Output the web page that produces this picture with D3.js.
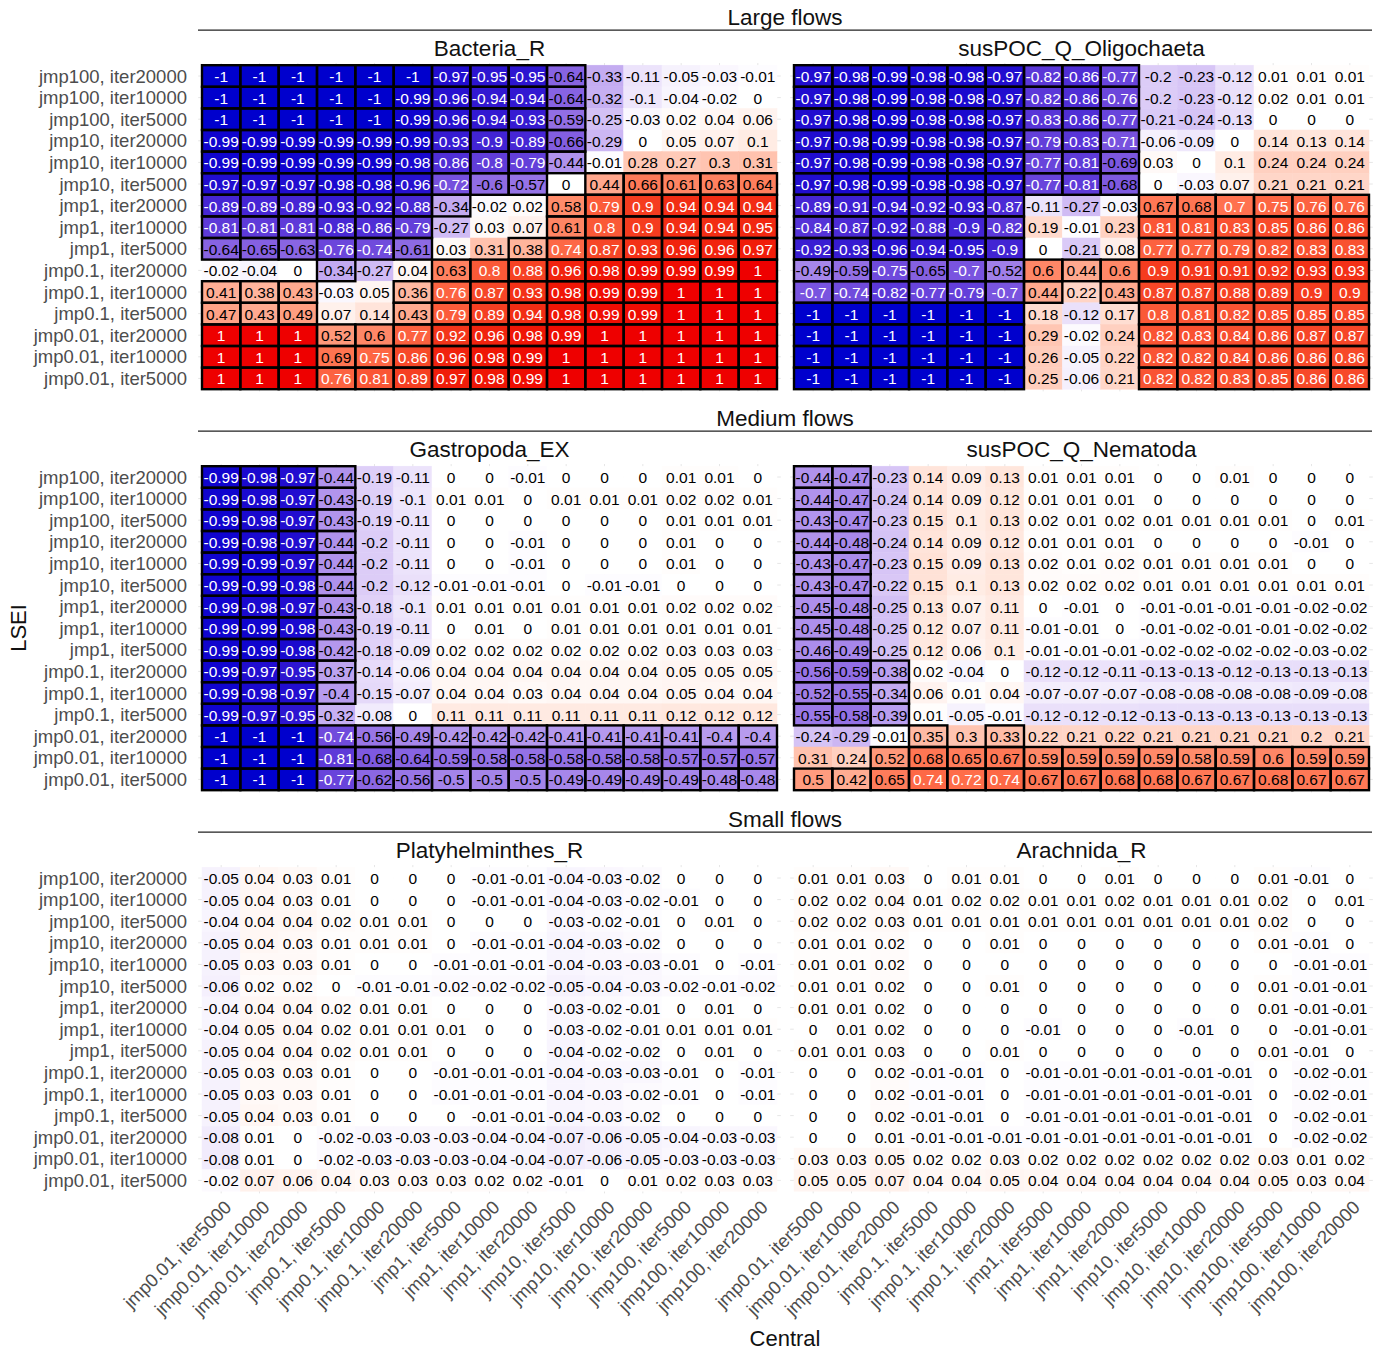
<!DOCTYPE html>
<html>
<head>
<meta charset="utf-8">
<script src="https://cdn.jsdelivr.net/npm/d3@7"></script>
<style>
  html, body { margin: 0; padding: 0; background: #fff; }
  svg { display: block; font-family: "Liberation Sans", Arial, sans-serif; }
</style>
</head>
<body>
<svg id="chart" width="1384" height="1351"></svg>
<script>
// ---------------- DATA ----------------
const rowLabels = ["jmp100, iter20000","jmp100, iter10000","jmp100, iter5000",
  "jmp10, iter20000","jmp10, iter10000","jmp10, iter5000",
  "jmp1, iter20000","jmp1, iter10000","jmp1, iter5000",
  "jmp0.1, iter20000","jmp0.1, iter10000","jmp0.1, iter5000",
  "jmp0.01, iter20000","jmp0.01, iter10000","jmp0.01, iter5000"];
const colLabels = ["jmp0.01, iter5000","jmp0.01, iter10000","jmp0.01, iter20000",
  "jmp0.1, iter5000","jmp0.1, iter10000","jmp0.1, iter20000",
  "jmp1, iter5000","jmp1, iter10000","jmp1, iter20000",
  "jmp10, iter5000","jmp10, iter10000","jmp10, iter20000",
  "jmp100, iter5000","jmp100, iter10000","jmp100, iter20000"];
const groupTitles = ["Large flows","Medium flows","Small flows"];
const panelTitles = [["Bacteria_R","susPOC_Q_Oligochaeta"],["Gastropoda_EX","susPOC_Q_Nematoda"],["Platyhelminthes_R","Arachnida_R"]];

const bacteriaR = [
 [-1,-1,-1,-1,-1,-1,-0.97,-0.95,-0.95,-0.64,-0.33,-0.11,-0.05,-0.03,-0.01],
 [-1,-1,-1,-1,-1,-0.99,-0.96,-0.94,-0.94,-0.64,-0.32,-0.1,-0.04,-0.02,0],
 [-1,-1,-1,-1,-1,-0.99,-0.96,-0.94,-0.93,-0.59,-0.25,-0.03,0.02,0.04,0.06],
 [-0.99,-0.99,-0.99,-0.99,-0.99,-0.99,-0.93,-0.9,-0.89,-0.66,-0.29,0,0.05,0.07,0.1],
 [-0.99,-0.99,-0.99,-0.99,-0.99,-0.98,-0.86,-0.8,-0.79,-0.44,-0.01,0.28,0.27,0.3,0.31],
 [-0.97,-0.97,-0.97,-0.98,-0.98,-0.96,-0.72,-0.6,-0.57,0,0.44,0.66,0.61,0.63,0.64],
 [-0.89,-0.89,-0.89,-0.93,-0.92,-0.88,-0.34,-0.02,0.02,0.58,0.79,0.9,0.94,0.94,0.94],
 [-0.81,-0.81,-0.81,-0.88,-0.86,-0.79,-0.27,0.03,0.07,0.61,0.8,0.9,0.94,0.94,0.95],
 [-0.64,-0.65,-0.63,-0.76,-0.74,-0.61,0.03,0.31,0.38,0.74,0.87,0.93,0.96,0.96,0.97],
 [-0.02,-0.04,0,-0.34,-0.27,0.04,0.63,0.8,0.88,0.96,0.98,0.99,0.99,0.99,1],
 [0.41,0.38,0.43,-0.03,0.05,0.36,0.76,0.87,0.93,0.98,0.99,0.99,1,1,1],
 [0.47,0.43,0.49,0.07,0.14,0.43,0.79,0.89,0.94,0.98,0.99,0.99,1,1,1],
 [1,1,1,0.52,0.6,0.77,0.92,0.96,0.98,0.99,1,1,1,1,1],
 [1,1,1,0.69,0.75,0.86,0.96,0.98,0.99,1,1,1,1,1,1],
 [1,1,1,0.76,0.81,0.89,0.97,0.98,0.99,1,1,1,1,1,1]];
const bacteriaRSig = [
 "111111111100000","111111111100000","111111111100000","111111111100000","111111111100000",
 "111111111011111","111111100111111","111111000111111","111111001111111",
 "000100111111111","111001111111111","111001111111111",
 "111111111111111","111111111111111","111111111111111"];

const oligochaeta = [
 [-0.97,-0.98,-0.99,-0.98,-0.98,-0.97,-0.82,-0.86,-0.77,-0.2,-0.23,-0.12,0.01,0.01,0.01],
 [-0.97,-0.98,-0.99,-0.98,-0.98,-0.97,-0.82,-0.86,-0.76,-0.2,-0.23,-0.12,0.02,0.01,0.01],
 [-0.97,-0.98,-0.99,-0.98,-0.98,-0.97,-0.83,-0.86,-0.77,-0.21,-0.24,-0.13,0,0,0],
 [-0.97,-0.98,-0.99,-0.98,-0.98,-0.97,-0.79,-0.83,-0.71,-0.06,-0.09,0,0.14,0.13,0.14],
 [-0.97,-0.98,-0.99,-0.98,-0.98,-0.97,-0.77,-0.81,-0.69,0.03,0,0.1,0.24,0.24,0.24],
 [-0.97,-0.98,-0.99,-0.98,-0.98,-0.97,-0.77,-0.81,-0.68,0,-0.03,0.07,0.21,0.21,0.21],
 [-0.89,-0.91,-0.94,-0.92,-0.93,-0.87,-0.11,-0.27,-0.03,0.67,0.68,0.7,0.75,0.76,0.76],
 [-0.84,-0.87,-0.92,-0.88,-0.9,-0.82,0.19,-0.01,0.23,0.81,0.81,0.83,0.85,0.86,0.86],
 [-0.92,-0.93,-0.96,-0.94,-0.95,-0.9,0,-0.21,0.08,0.77,0.77,0.79,0.82,0.83,0.83],
 [-0.49,-0.59,-0.75,-0.65,-0.7,-0.52,0.6,0.44,0.6,0.9,0.91,0.91,0.92,0.93,0.93],
 [-0.7,-0.74,-0.82,-0.77,-0.79,-0.7,0.44,0.22,0.43,0.87,0.87,0.88,0.89,0.9,0.9],
 [-1,-1,-1,-1,-1,-1,0.18,-0.12,0.17,0.8,0.81,0.82,0.85,0.85,0.85],
 [-1,-1,-1,-1,-1,-1,0.29,-0.02,0.24,0.82,0.83,0.84,0.86,0.87,0.87],
 [-1,-1,-1,-1,-1,-1,0.26,-0.05,0.22,0.82,0.82,0.84,0.86,0.86,0.86],
 [-1,-1,-1,-1,-1,-1,0.25,-0.06,0.21,0.82,0.82,0.83,0.85,0.86,0.86]];
const oligochaetaSig = [
 "111111111000000","111111111000000","111111111000000","111111111000000","111111111000000","111111111000000",
 "111111000111111","111111000111111","111111000111111",
 "111111111111111","111111101111111",
 "111111000111111","111111000111111","111111000111111","111111000111111"];

const gastropoda = [
 [-0.99,-0.98,-0.97,-0.44,-0.19,-0.11,0,0,-0.01,0,0,0,0.01,0.01,0],
 [-0.99,-0.98,-0.97,-0.43,-0.19,-0.1,0.01,0.01,0,0.01,0.01,0.01,0.02,0.02,0.01],
 [-0.99,-0.98,-0.97,-0.43,-0.19,-0.11,0,0,0,0,0,0,0.01,0.01,0.01],
 [-0.99,-0.98,-0.97,-0.44,-0.2,-0.11,0,0,-0.01,0,0,0,0.01,0,0],
 [-0.99,-0.99,-0.97,-0.44,-0.2,-0.11,0,0,-0.01,0,0,0,0.01,0,0],
 [-0.99,-0.99,-0.98,-0.44,-0.2,-0.12,-0.01,-0.01,-0.01,0,-0.01,-0.01,0,0,0],
 [-0.99,-0.98,-0.97,-0.43,-0.18,-0.1,0.01,0.01,0.01,0.01,0.01,0.01,0.02,0.02,0.02],
 [-0.99,-0.99,-0.98,-0.43,-0.19,-0.11,0,0.01,0,0.01,0.01,0.01,0.01,0.01,0.01],
 [-0.99,-0.99,-0.98,-0.42,-0.18,-0.09,0.02,0.02,0.02,0.02,0.02,0.02,0.03,0.03,0.03],
 [-0.99,-0.97,-0.95,-0.37,-0.14,-0.06,0.04,0.04,0.04,0.04,0.04,0.04,0.05,0.05,0.05],
 [-0.99,-0.98,-0.97,-0.4,-0.15,-0.07,0.04,0.04,0.03,0.04,0.04,0.04,0.05,0.04,0.04],
 [-0.99,-0.97,-0.95,-0.32,-0.08,0,0.11,0.11,0.11,0.11,0.11,0.11,0.12,0.12,0.12],
 [-1,-1,-1,-0.74,-0.56,-0.49,-0.42,-0.42,-0.42,-0.41,-0.41,-0.41,-0.41,-0.4,-0.4],
 [-1,-1,-1,-0.81,-0.68,-0.64,-0.59,-0.58,-0.58,-0.58,-0.58,-0.58,-0.57,-0.57,-0.57],
 [-1,-1,-1,-0.77,-0.62,-0.56,-0.5,-0.5,-0.5,-0.49,-0.49,-0.49,-0.49,-0.48,-0.48]];
const gastropodaSig = [
 "111100000000000","111100000000000","111100000000000","111100000000000","111100000000000","111100000000000",
 "111100000000000","111100000000000","111100000000000","111100000000000","111100000000000",
 "111000000000000","111111111111111","111111111111111","111111111111111"];

const nematoda = [
 [-0.44,-0.47,-0.23,0.14,0.09,0.13,0.01,0.01,0.01,0,0,0.01,0,0,0],
 [-0.44,-0.47,-0.24,0.14,0.09,0.12,0.01,0.01,0.01,0,0,0,0,0,0],
 [-0.43,-0.47,-0.23,0.15,0.1,0.13,0.02,0.01,0.02,0.01,0.01,0.01,0.01,0,0.01],
 [-0.44,-0.48,-0.24,0.14,0.09,0.12,0.01,0.01,0.01,0,0,0,0,-0.01,0],
 [-0.43,-0.47,-0.23,0.15,0.09,0.13,0.02,0.01,0.02,0.01,0.01,0.01,0.01,0,0],
 [-0.43,-0.47,-0.22,0.15,0.1,0.13,0.02,0.02,0.02,0.01,0.01,0.01,0.01,0.01,0.01],
 [-0.45,-0.48,-0.25,0.13,0.07,0.11,0,-0.01,0,-0.01,-0.01,-0.01,-0.01,-0.02,-0.02],
 [-0.45,-0.48,-0.25,0.12,0.07,0.11,-0.01,-0.01,0,-0.01,-0.02,-0.01,-0.01,-0.02,-0.02],
 [-0.46,-0.49,-0.25,0.12,0.06,0.1,-0.01,-0.01,-0.01,-0.02,-0.02,-0.02,-0.02,-0.03,-0.02],
 [-0.56,-0.59,-0.38,0.02,-0.04,0,-0.12,-0.12,-0.11,-0.13,-0.13,-0.12,-0.13,-0.13,-0.13],
 [-0.52,-0.55,-0.34,0.06,0.01,0.04,-0.07,-0.07,-0.07,-0.08,-0.08,-0.08,-0.08,-0.09,-0.08],
 [-0.55,-0.58,-0.39,0.01,-0.05,-0.01,-0.12,-0.12,-0.12,-0.13,-0.13,-0.13,-0.13,-0.13,-0.13],
 [-0.24,-0.29,-0.01,0.35,0.3,0.33,0.22,0.21,0.22,0.21,0.21,0.21,0.21,0.2,0.21],
 [0.31,0.24,0.52,0.68,0.65,0.67,0.59,0.59,0.59,0.59,0.58,0.59,0.6,0.59,0.59],
 [0.5,0.42,0.65,0.74,0.72,0.74,0.67,0.67,0.68,0.68,0.67,0.67,0.68,0.67,0.67]];
const nematodaSig = [
 "110000000000000","110000000000000","110000000000000","110000000000000","110000000000000",
 "110000000000000","110000000000000","110000000000000","110000000000000",
 "111000000000000","111000000000000","111000000000000",
 "000101000000000","001111111111111","111111111111111"];

const platyhelminthes = [
 [-0.05,0.04,0.03,0.01,0,0,0,-0.01,-0.01,-0.04,-0.03,-0.02,0,0,0],
 [-0.05,0.04,0.03,0.01,0,0,0,-0.01,-0.01,-0.04,-0.03,-0.02,-0.01,0,0],
 [-0.04,0.04,0.04,0.02,0.01,0.01,0,0,0,-0.03,-0.02,-0.01,0,0.01,0],
 [-0.05,0.04,0.03,0.01,0.01,0.01,0,-0.01,-0.01,-0.04,-0.03,-0.02,0,0,0],
 [-0.05,0.03,0.03,0.01,0,0,-0.01,-0.01,-0.01,-0.04,-0.03,-0.03,-0.01,0,-0.01],
 [-0.06,0.02,0.02,0,-0.01,-0.01,-0.02,-0.02,-0.02,-0.05,-0.04,-0.03,-0.02,-0.01,-0.02],
 [-0.04,0.04,0.04,0.02,0.01,0.01,0,0,0,-0.03,-0.02,-0.01,0,0.01,0],
 [-0.04,0.05,0.04,0.02,0.01,0.01,0.01,0,0,-0.03,-0.02,-0.01,0.01,0.01,0.01],
 [-0.05,0.04,0.04,0.02,0.01,0.01,0,0,0,-0.04,-0.02,-0.02,0,0.01,0],
 [-0.05,0.03,0.03,0.01,0,0,-0.01,-0.01,-0.01,-0.04,-0.03,-0.03,-0.01,0,-0.01],
 [-0.05,0.03,0.03,0.01,0,0,-0.01,-0.01,-0.01,-0.04,-0.03,-0.02,-0.01,0,-0.01],
 [-0.05,0.04,0.03,0.01,0,0,0,-0.01,-0.01,-0.04,-0.03,-0.02,0,0,0],
 [-0.08,0.01,0,-0.02,-0.03,-0.03,-0.03,-0.04,-0.04,-0.07,-0.06,-0.05,-0.04,-0.03,-0.03],
 [-0.08,0.01,0,-0.02,-0.03,-0.03,-0.03,-0.04,-0.04,-0.07,-0.06,-0.05,-0.03,-0.03,-0.03],
 [-0.02,0.07,0.06,0.04,0.03,0.03,0.03,0.02,0.02,-0.01,0,0.01,0.02,0.03,0.03]];
const platyhelminthesSig = Array(15).fill("000000000000000");

const arachnida = [
 [0.01,0.01,0.03,0,0.01,0.01,0,0,0.01,0,0,0,0.01,-0.01,0],
 [0.02,0.02,0.04,0.01,0.02,0.02,0.01,0.01,0.02,0.01,0.01,0.01,0.02,0,0.01],
 [0.02,0.02,0.03,0.01,0.01,0.01,0.01,0.01,0.01,0.01,0.01,0.01,0.02,0,0],
 [0.01,0.01,0.02,0,0,0.01,0,0,0,0,0,0,0.01,-0.01,0],
 [0.01,0.01,0.02,0,0,0,0,0,0,0,0,0,0,-0.01,-0.01],
 [0.01,0.01,0.02,0,0,0.01,0,0,0,0,0,0,0.01,-0.01,-0.01],
 [0.01,0.01,0.02,0,0,0,0,0,0,0,0,0,0.01,-0.01,-0.01],
 [0,0.01,0.02,0,0,0,-0.01,0,0,0,-0.01,0,0,-0.01,-0.01],
 [0.01,0.01,0.03,0,0,0.01,0,0,0,0,0,0,0.01,-0.01,0],
 [0,0,0.02,-0.01,-0.01,0,-0.01,-0.01,-0.01,-0.01,-0.01,-0.01,0,-0.02,-0.01],
 [0,0,0.02,-0.01,-0.01,0,-0.01,-0.01,-0.01,-0.01,-0.01,-0.01,0,-0.02,-0.01],
 [0,0,0.02,-0.01,-0.01,0,-0.01,-0.01,-0.01,-0.01,-0.01,-0.01,0,-0.02,-0.01],
 [0,0,0.01,-0.01,-0.01,-0.01,-0.01,-0.01,-0.01,-0.01,-0.01,-0.01,0,-0.02,-0.02],
 [0.03,0.03,0.05,0.02,0.02,0.03,0.02,0.02,0.02,0.02,0.02,0.02,0.03,0.01,0.02],
 [0.05,0.05,0.07,0.04,0.04,0.05,0.04,0.04,0.04,0.04,0.04,0.04,0.05,0.03,0.04]];
const arachnidaSig = Array(15).fill("000000000000000");

const panelValues = [[bacteriaR, oligochaeta],[gastropoda, nematoda],[platyhelminthes, arachnida]];
const panelSig = [[bacteriaRSig, oligochaetaSig],[gastropodaSig, nematodaSig],[platyhelminthesSig, arachnidaSig]];

// ---------------- LAYOUT ----------------
const svg = d3.select("#chart");
const panelX = [[202, 777],[794, 1369]];
const bandTops = [65.2, 466.2, 867.2];
const panelH = 324;
const color = d3.scaleLinear().domain([-1, 0, 1])
  .range(["#0000CD", "#FFFFFF", "#EE0000"]).interpolate(d3.interpolateLab);

bandTops.forEach((top, g) => {
  // group header and line
  svg.append("text").attr("x", 785).attr("y", top - 48).attr("text-anchor", "middle")
    .attr("dominant-baseline", "central").attr("font-size", 22.5).attr("fill", "#111")
    .text(groupTitles[g]);
  svg.append("line").attr("x1", 198).attr("x2", 1372).attr("y1", top - 35).attr("y2", top - 35)
    .attr("stroke", "#222").attr("stroke-width", 1.2);

  panelX.forEach((px, p) => {
    const x = d3.scaleBand().domain(colLabels).range(px).padding(0);
    const y = d3.scaleBand().domain(rowLabels).range([top, top + panelH]).padding(0);
    const bw = x.bandwidth(), bh = y.bandwidth();
    const vals = panelValues[g][p], sig = panelSig[g][p];
    const cells = [];
    rowLabels.forEach((r, i) => colLabels.forEach((c, j) => {
      cells.push({r, c, v: vals[i][j], s: sig[i][j] === "1"});
    }));
    const gp = svg.append("g");

    // panel title
    gp.append("text").attr("x", (px[0] + px[1]) / 2).attr("y", top - 17)
      .attr("text-anchor", "middle").attr("dominant-baseline", "central")
      .attr("font-size", 22.5).attr("fill", "#111").text(panelTitles[g][p]);

    // grid lines (panel expansion)
    const ex = bw * 0.1, ey = bh * 0.1;
    gp.selectAll(".gv").data(colLabels).join("line")
      .attr("x1", d => x(d) + bw / 2).attr("x2", d => x(d) + bw / 2)
      .attr("y1", top - ey).attr("y2", top + panelH + ey)
      .attr("stroke", "#e6e6e6").attr("stroke-width", 1);
    gp.selectAll(".gh").data(rowLabels).join("line")
      .attr("y1", d => y(d) + bh / 2).attr("y2", d => y(d) + bh / 2)
      .attr("x1", px[0] - ex).attr("x2", px[1] + ex)
      .attr("stroke", "#e6e6e6").attr("stroke-width", 1);

    // tiles
    gp.selectAll(".tile").data(cells).join("rect")
      .attr("x", d => x(d.c)).attr("y", d => y(d.r))
      .attr("width", bw).attr("height", bh)
      .attr("fill", d => color(d.v)).attr("stroke", d => color(d.v)).attr("stroke-width", 0.5);
    // significance outlines
    gp.selectAll(".sig").data(cells.filter(d => d.s)).join("rect")
      .attr("x", d => x(d.c)).attr("y", d => y(d.r))
      .attr("width", bw).attr("height", bh)
      .attr("fill", "none").attr("stroke", "#000").attr("stroke-width", 2.4);
    // values
    gp.selectAll(".val").data(cells).join("text")
      .attr("x", d => x(d.c) + bw / 2).attr("y", d => y(d.r) + bh / 2 + 0.5)
      .attr("text-anchor", "middle").attr("dominant-baseline", "central")
      .attr("font-size", 15.5)
      .attr("fill", d => Math.abs(d.v) >= 0.7 ? "#fff" : "#000")
      .text(d => String(d.v));

    // y labels on left panels
    if (p === 0) {
      gp.selectAll(".yl").data(rowLabels).join("text")
        .attr("x", 187).attr("y", d => y(d) + bh / 2)
        .attr("text-anchor", "end").attr("dominant-baseline", "central")
        .attr("font-size", 18.5).attr("fill", "#4d4d4d").text(d => d);
    }
    // x labels on bottom band
    if (g === 2) {
      gp.selectAll(".xl").data(colLabels).join("text")
        .attr("transform", d => `translate(${x(d) + bw / 2 + 2},${top + panelH + 8}) rotate(-45)`)
        .attr("text-anchor", "end").attr("dy", "0.71em")
        .attr("font-size", 18.5).attr("fill", "#4d4d4d").text(d => d);
    }
  });
});

// axis titles
svg.append("text").attr("transform", "translate(18,628) rotate(-90)")
  .attr("text-anchor", "middle").attr("dominant-baseline", "central")
  .attr("font-size", 22).attr("fill", "#111").text("LSEI");
svg.append("text").attr("x", 785).attr("y", 1338).attr("text-anchor", "middle")
  .attr("dominant-baseline", "central").attr("font-size", 22).attr("fill", "#111").text("Central");
</script>
</body>
</html>
